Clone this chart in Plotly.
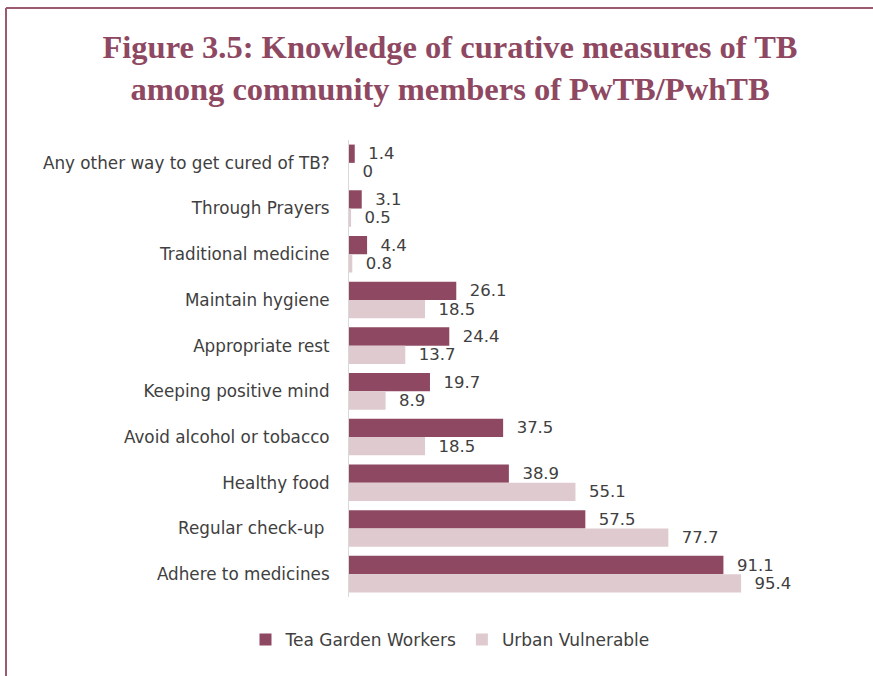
import plotly.graph_objects as go

categories = [
    "Any other way to get cured of TB?",
    "Through Prayers",
    "Traditional medicine",
    "Maintain hygiene",
    "Appropriate rest",
    "Keeping positive mind",
    "Avoid alcohol or tobacco",
    "Healthy food",
    "Regular check-up ",
    "Adhere to medicines",
]
tea_garden = [1.4, 3.1, 4.4, 26.1, 24.4, 19.7, 37.5, 38.9, 57.5, 91.1]
urban_vulnerable = [0, 0.5, 0.8, 18.5, 13.7, 8.9, 18.5, 55.1, 77.7, 95.4]

DARK = "#8E4862"
LIGHT = "#DFCBCF"
TEXT = "#404040"
FONT = "DejaVu Sans"

W, H = 873, 676
L, T, R, B = 349, 140, 113, 79
pw = W - L - R
ph = H - T - B

fig = go.Figure()
for name, vals, col in [("Tea Garden Workers", tea_garden, DARK),
                        ("Urban Vulnerable", urban_vulnerable, LIGHT)]:
    fig.add_trace(go.Bar(
        y=categories, x=vals, name=name, orientation="h",
        marker=dict(color=col, line=dict(width=0)),
        text=vals, texttemplate="\u00a0\u00a0%{x}", textposition="outside",
        textfont=dict(family=FONT, size=16.5, color=TEXT),
        constraintext="none", cliponaxis=False,
    ))

def px_x(p):
    return (p - L) / pw

def px_y(p):
    return 1 - (p - T) / ph

fig.update_layout(
    width=W, height=H,
    margin=dict(l=L, r=R, t=T, b=B),
    paper_bgcolor="white", plot_bgcolor="white",
    barmode="group", bargap=0.2, bargroupgap=0,
    font=dict(family=FONT, color=TEXT),
    title=dict(
        text="<b>Figure 3.5: Knowledge of curative measures of TB<br>among community members of PwTB/PwhTB</b>",
        font=dict(family="Liberation Serif", size=32.5, color=DARK),
        x=450 / W, xanchor="center", xref="container",
        y=1 - 58 / H, yanchor="top", yref="container",
    ),
    xaxis=dict(range=[0, 100], visible=False, fixedrange=True),
    yaxis=dict(
        autorange="reversed", showgrid=False, ticks="",
        showline=True, linecolor="#D9D9D9", linewidth=1,
        tickfont=dict(family=FONT, size=16.8, color=TEXT),
        ticklabelstandoff=15,
    ),
    legend=dict(
        orientation="h", xref="container", yref="container",
        x=450 / W, xanchor="center", y=1 - 640 / H, yanchor="middle",
        font=dict(family=FONT, size=17, color=TEXT),
        itemwidth=30, traceorder="normal",
    ),
    showlegend=True,
    shapes=[
        dict(type="line", xref="paper", yref="paper",
             x0=px_x(6), x1=px_x(6), y0=px_y(8), y1=px_y(676),
             line=dict(color="#9B5A70", width=2)),
        dict(type="line", xref="paper", yref="paper",
             x0=px_x(6), x1=px_x(873), y0=px_y(8), y1=px_y(8),
             line=dict(color="#9B5A70", width=2)),
    ],
)

fig.write_html("out.html")
